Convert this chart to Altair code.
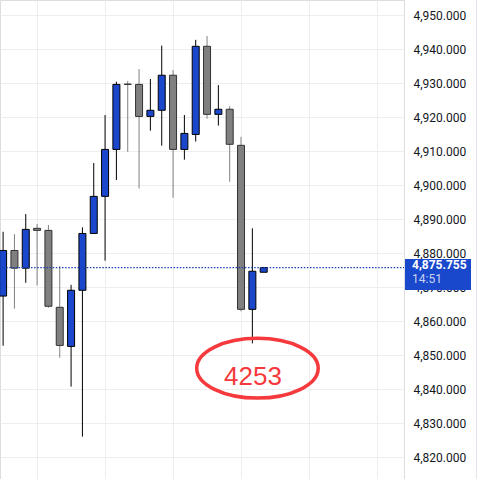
import altair as alt
import pandas as pd

# ---- data ----
idx = list(range(24))
opens = [4867.4, 4880.8, 4875.6, 4887.3, 4886.7, 4864.1, 4852.6, 4869.1, 4885.8, 4896.7, 4910.5, 4929.7,
         4929.6, 4920.2, 4922.0, 4932.3, 4910.5, 4914.9, 4940.8, 4920.8, 4922.3, 4911.7, 4863.5, 4874.4]
highs = [4886.3, 4885.6, 4891.5, 4888.6, 4888.3, 4876.2, 4870.7, 4887.6, 4906.5, 4920.6, 4930.4, 4930.6,
         4934.1, 4931.2, 4941.0, 4933.8, 4920.6, 4942.7, 4943.8, 4929.4, 4923.2, 4914.2, 4887.3, 4875.8]
lows = [4852.8, 4863.7, 4871.3, 4870.5, 4864.0, 4849.3, 4840.8, 4826.1, 4885.8, 4877.8, 4901.5, 4909.8,
        4899.0, 4916.0, 4911.6, 4896.3, 4907.5, 4912.8, 4919.5, 4917.5, 4901.0, 4862.9, 4853.5, 4874.4]
closes = [4880.8, 4875.6, 4887.0, 4886.7, 4864.4, 4852.9, 4869.1, 4885.8, 4896.7, 4910.5, 4929.6, 4929.6,
          4920.2, 4922.0, 4932.3, 4910.5, 4915.2, 4940.8, 4920.8, 4922.3, 4912.0, 4863.5, 4874.7, 4875.755]

y_ticks = [4820, 4830, 4840, 4850, 4860, 4870, 4880, 4890, 4900, 4910, 4920, 4930, 4940, 4950]
x_grid = [3, 9, 15, 21, 27, 33]

last_price = [4875.755]
last_price_text = ["4,875.755"]
countdown_text = ["14:51"]

annot_x = [22.45]
annot_y = [4846.2]
annot_text_x = [22.06]
annot_text_y = [4841.3]
annot_text = ["4253"]

# ---- styling ----
BLUE = "#1A47CC"
GRAY = "#808080"
GRID = "#EEEEEE"
RED = "#F5393C"
FONT = "Roboto"

df = pd.DataFrame({"i": idx, "open": opens, "high": highs, "low": lows, "close": closes})
df["dir"] = ["up" if c >= o else "down" for o, c in zip(opens, closes)]

xs = alt.Scale(domain=[-0.2736, 35.384], nice=False, zero=False, padding=0)
ys = alt.Scale(domain=[4813.64, 4954.41], nice=False, zero=False, padding=0)

x_axis = alt.Axis(values=x_grid, labels=False, ticks=False, domain=False, title=None,
                  grid=True, gridColor=GRID, gridWidth=1)
y_axis = alt.Axis(orient="right", values=y_ticks, format=",.3f", ticks=False, domain=False,
                  labelPadding=9, labelFontSize=12, labelColor="#131722", labelFont=FONT,
                  labelOverlap=False, labelBound=False, labelFlush=False, zindex=0,
                  gridColor=GRID, gridWidth=1, title=None)


def X(field):
    return alt.X(field, scale=xs, axis=x_axis, title=None)


def Y(field):
    return alt.Y(field, scale=ys, axis=y_axis, title=None)


base = alt.Chart(df)

wicks = base.mark_rule(strokeWidth=1).encode(
    x=X("i:Q"),
    y=Y("low:Q"),
    y2="high:Q",
    color=alt.Color("dir:N", scale=alt.Scale(domain=["up", "down"], range=["#000000", GRAY]), legend=None),
)

bodies = base.mark_bar(size=7, strokeWidth=1).encode(
    x=X("i:Q"),
    y=Y("open:Q"),
    y2="close:Q",
    fill=alt.Fill("dir:N", scale=alt.Scale(domain=["up", "down"], range=[BLUE, GRAY]), legend=None),
    stroke=alt.Stroke("dir:N", scale=alt.Scale(domain=["up", "down"], range=["#000000", "#333333"]), legend=None),
)

price_df = pd.DataFrame({"price": last_price, "label": last_price_text, "cd": countdown_text})
pbase = alt.Chart(price_df)

price_line = pbase.mark_rule(color="#1A3FB5", strokeWidth=1.2, strokeDash=[1.5, 1.6]).encode(
    y=Y("price:Q"), x=alt.value(0), x2=alt.value(404)
)

price_box = pbase.mark_point(
    shape="M -1 -0.47 L 1 -0.47 L 1 0.47 L -1 0.47 Z",
    size=66 * 66, filled=True, color="#1948CC", opacity=1, yOffset=6.9,
).encode(y=Y("price:Q"), x=alt.value(438))

price_txt = pbase.mark_text(
    align="left", baseline="alphabetic", font=FONT, fontSize=12, fontWeight="bold",
    color="#FFFFFF", yOffset=1.8,
).encode(y=Y("price:Q"), x=alt.value(412), text="label:N")

cd_txt = pbase.mark_text(
    align="left", baseline="alphabetic", font=FONT, fontSize=12,
    color="#C9D3F2", yOffset=15.2,
).encode(y=Y("price:Q"), x=alt.value(412), text="cd:N")

annot_df = pd.DataFrame({"x": annot_x, "y": annot_y})
ellipse = alt.Chart(annot_df).mark_point(
    shape="M -1 0 A 1 0.492 0 1 0 1 0 A 1 0.492 0 1 0 -1 0 Z",
    size=121.5 * 121.5, filled=False, stroke=RED, strokeWidth=3.5, opacity=1,
).encode(x=X("x:Q"), y=Y("y:Q"))

atext_df = pd.DataFrame({"x": annot_text_x, "y": annot_text_y, "t": annot_text})
atext = alt.Chart(atext_df).mark_text(
    align="center", baseline="alphabetic", font="Liberation Sans", fontSize=26, color=RED,
).encode(x=X("x:Q"), y=Y("y:Q"), text="t:N")

border = alt.Chart(price_df).mark_rule(color="#E0E3EB", strokeWidth=1).encode(
    x=alt.value(476.5), y=alt.value(0), y2=alt.value(479)
)

chart = alt.layer(
    wicks, bodies, price_line, ellipse, atext, price_box, price_txt, cd_txt, border
).properties(
    width=404, height=479,
    autosize=alt.AutoSizeParams(type="none"),
    padding={"left": 0, "right": 74, "top": 0, "bottom": 0},
).configure_view(stroke=None).configure_axis(labelOverlap=False).configure(background="white")

chart.save("out.html", embed_options={"renderer": "svg", "actions": False})
